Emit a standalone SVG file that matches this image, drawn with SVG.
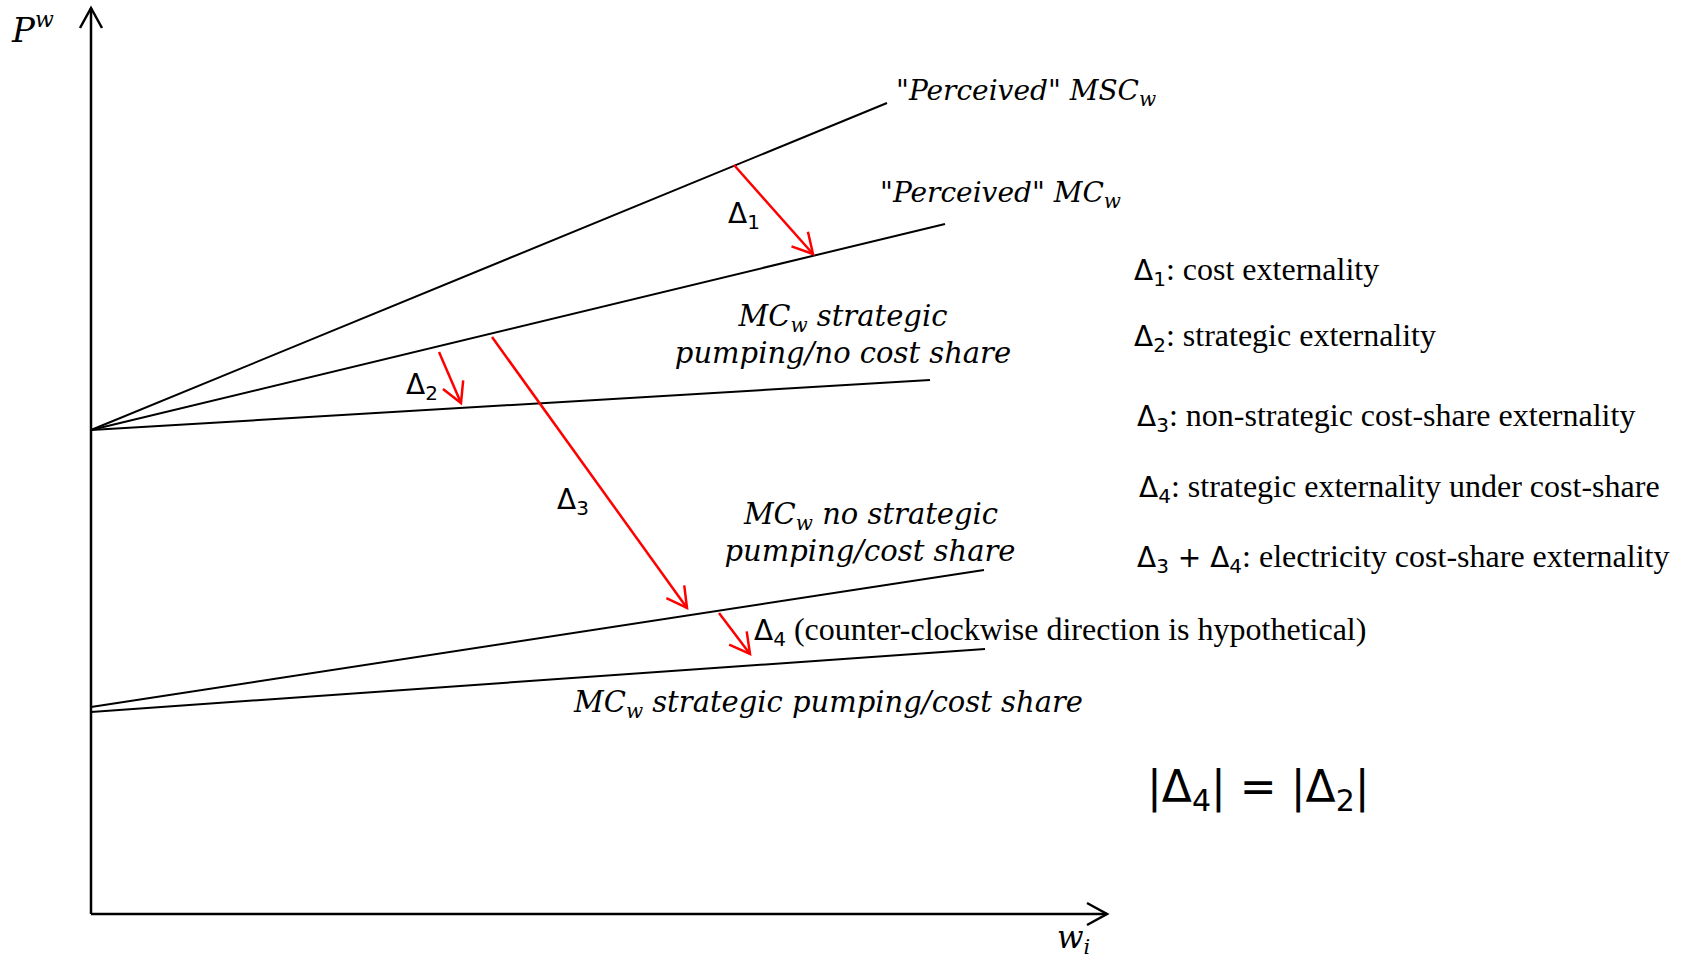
<svg xmlns="http://www.w3.org/2000/svg" width="1686" height="961" viewBox="0 0 1686 961">
<defs>
<style>
.ax{stroke:#000;stroke-width:2.5;fill:none}
.ln{stroke:#000;stroke-width:2;fill:none}
.rd{stroke:#f00;stroke-width:2.5;fill:none}
.m{font-family:"DejaVu Serif",serif;font-style:italic;font-size:29px;fill:#000}
.q{font-size:28px}
.t{font-family:"Liberation Serif","Times New Roman",serif;font-size:32px;fill:#000}
.d{font-family:"DejaVu Sans",sans-serif;font-style:normal;font-size:28px}
.s{font-size:20px}
.big{font-family:"DejaVu Sans",sans-serif;font-size:44px;fill:#000}
</style>
<marker id="ra" markerUnits="userSpaceOnUse" markerWidth="30" markerHeight="26" refX="22" refY="12" orient="auto" viewBox="0 0 30 24"><path d="M2,1 L22,12 L2,23" fill="none" stroke="#f00" stroke-width="2.5"/></marker>
<marker id="ka" markerUnits="userSpaceOnUse" markerWidth="30" markerHeight="26" refX="22" refY="12" orient="auto" viewBox="0 0 30 24"><path d="M2,1 L22,12 L2,23" fill="none" stroke="#000" stroke-width="2.5"/></marker>
</defs>
<rect width="1686" height="961" fill="#fff"/>

<g id="axes">
<path class="ax" d="M91,914 L91,8" marker-end="url(#ka)"/>
<path class="ax" d="M91,914 L1107,914" marker-end="url(#ka)"/>
<text class="m" x="12" y="42" style="font-size:34px">P<tspan dy="-15" style="font-size:22px">w</tspan></text>
<text class="m" x="1057" y="948" style="font-size:31px">w<tspan dy="6" style="font-size:21px">i</tspan></text>
</g>

<g id="curve-msc">
<path class="ln" d="M91,430 L887,103"/>
<text class="m q" x="896" y="100">"Perceived" MSC<tspan dy="6" class="s">w</tspan></text>
</g>
<g id="curve-mc">
<path class="ln" d="M91,430 L945,224"/>
<text class="m q" x="880" y="202">"Perceived" MC<tspan dy="6" class="s">w</tspan></text>
</g>
<g id="curve-strategic-nocs">
<path class="ln" d="M91,430 L930,380"/>
<text class="m" x="843" y="326" text-anchor="middle">MC<tspan dy="6" class="s">w</tspan><tspan dy="-6"> strategic</tspan></text>
<text class="m" x="843" y="363" text-anchor="middle">pumping/no cost share</text>
</g>
<g id="curve-nostrategic-cs">
<path class="ln" d="M91,707 L984,570"/>
<text class="m" x="871" y="524" text-anchor="middle">MC<tspan dy="6" class="s">w</tspan><tspan dy="-6"> no strategic</tspan></text>
<text class="m" x="870" y="561" text-anchor="middle">pumping/cost share</text>
</g>
<g id="curve-strategic-cs">
<path class="ln" d="M91,712 L985,649"/>
<text class="m" x="574" y="712">MC<tspan dy="6" class="s">w</tspan><tspan dy="-6"> strategic pumping/cost share</tspan></text>
</g>

<g id="connectors">
<path class="rd" d="M734,165 L813,254" marker-end="url(#ra)"/>
<path class="rd" d="M439,352 L461,403" marker-end="url(#ra)"/>
<path class="rd" d="M492,337 L687,608" marker-end="url(#ra)"/>
<path class="rd" d="M719,613 L750,654" marker-end="url(#ra)"/>
</g>

<g id="delta-labels">
<text class="t" x="728" y="223"><tspan class="d">Δ</tspan><tspan class="d s" dy="6">1</tspan></text>
<text class="t" x="406" y="394"><tspan class="d">Δ</tspan><tspan class="d s" dy="6">2</tspan></text>
<text class="t" x="557" y="509"><tspan class="d">Δ</tspan><tspan class="d s" dy="6">3</tspan></text>
<text class="t" x="754" y="640"><tspan class="d">Δ</tspan><tspan class="d s" dy="6">4</tspan><tspan dy="-6"> (counter-clockwise direction is hypothetical)</tspan></text>
</g>

<g id="legend">
<text class="t" x="1134" y="280"><tspan class="d">Δ</tspan><tspan class="d s" dy="6">1</tspan><tspan dy="-6">: cost externality</tspan></text>
<text class="t" x="1134" y="346"><tspan class="d">Δ</tspan><tspan class="d s" dy="6">2</tspan><tspan dy="-6">: strategic externality</tspan></text>
<text class="t" x="1137" y="426"><tspan class="d">Δ</tspan><tspan class="d s" dy="6">3</tspan><tspan dy="-6">: non-strategic cost-share externality</tspan></text>
<text class="t" x="1139" y="497"><tspan class="d">Δ</tspan><tspan class="d s" dy="6">4</tspan><tspan dy="-6">: strategic externality under cost-share</tspan></text>
<text class="t" x="1137" y="567"><tspan class="d">Δ</tspan><tspan class="d s" dy="6">3</tspan><tspan class="d" dy="-6"> + Δ</tspan><tspan class="d s" dy="6">4</tspan><tspan dy="-6">: electricity cost-share externality</tspan></text>
</g>

<g id="equation">
<text class="big" x="1147" y="802">|Δ<tspan dy="9" style="font-size:30px">4</tspan><tspan dy="-9">| = |Δ</tspan><tspan dy="9" style="font-size:30px">2</tspan><tspan dy="-9">|</tspan></text>
</g>
</svg>
